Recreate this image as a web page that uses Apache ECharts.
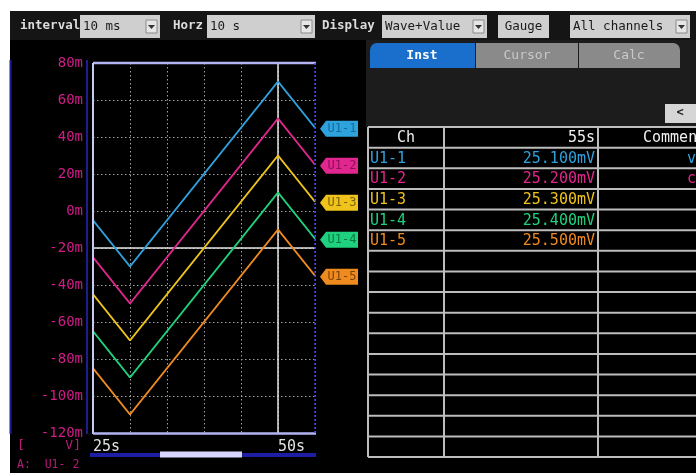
<!DOCTYPE html>
<html>
<head>
<meta charset="utf-8">
<script src="https://cdn.jsdelivr.net/npm/echarts@6/dist/echarts.min.js"></script>
<style>
  html, body { margin: 0; padding: 0; background: #fff; }
  #chart { width: 696px; height: 473px; }
</style>
</head>
<body>
<div id="chart"></div>
<script>
// time axis (s) and the two labelled ticks
const times = [25, 30, 50, 55];
const xTickLabels = { 25: "25s", 50: "50s" };

// trace values (mV) per channel, at the times above
const u1_1 = [-5, -30, 70, 45];
const u1_2 = [-25, -50, 50, 25];
const u1_3 = [-45, -70, 30, 5];
const u1_4 = [-65, -90, 10, -15];
const u1_5 = [-85, -110, -10, -35];

// cursor lines
const cursorTime = 50;
const cursorLevel = -20;

// table on the right
const channels = ["U1-1", "U1-2", "U1-3", "U1-4", "U1-5"];
const instValues = ["25.100mV", "25.200mV", "25.300mV", "25.400mV", "25.500mV"];
const comments = ["v", "c", "", "", ""];
const tableTime = "55s";

const chColors = ["#2ea2dc", "#e2268f", "#efc21c", "#1fd17c", "#ef8a1e"];
const tagText = ["#156a9a", "#8e0f58", "#7a6208", "#0c7a45", "#7a4208"];

const FONT = '"DejaVu Sans Mono", monospace';

const chart = echarts.init(document.getElementById("chart"));

function txt(x, y, s, color, size, align, weight) {
  return {
    type: "text", x: x, y: y, z: 20,
    style: {
      text: s, fill: color,
      font: (weight || "normal") + " " + size + "px " + FONT,
      align: align || "left", textAlign: align || "left",
      verticalAlign: "middle", textVerticalAlign: "middle",
    },
  };
}
function rect(x, y, w, h, fill, extra) {
  return Object.assign({
    type: "rect", z: 1,
    shape: { x: x, y: y, width: w, height: h },
    style: { fill: fill },
  }, extra || {});
}
function line(x1, y1, x2, y2, stroke, w, dash) {
  return {
    type: "line", z: 15,
    shape: { x1: x1, y1: y1, x2: x2, y2: y2 },
    style: { stroke: stroke, lineWidth: w, lineDash: dash || null },
  };
}
function dropdown(x, y, w, label) {
  return [
    rect(x, y, w, 23, "#cfcfcf", { z: 5 }),
    txt(x + 3, y + 12, label, "#1a1a1a", 12.5),
    rect(x + w - 14, y + 5, 11, 13, "#e6e6e6", { z: 6, style: { fill: "#e6e6e6", stroke: "#8a8a8a", lineWidth: 1 } }),
    { type: "polygon", z: 7, shape: { points: [[x + w - 12, y + 10], [x + w - 5, y + 10], [x + w - 8.5, y + 14]] }, style: { fill: "#333" } },
  ];
}

const graphics = [];
// screen background
graphics.push(rect(10, 11, 686, 462, "#000", { z: 0 }));
// toolbar
graphics.push(rect(10, 11, 686, 29, "#151515", { z: 1 }));
graphics.push(txt(20, 26, "interval", "#dcdcdc", 12.5, "left", "bold"));
graphics.push.apply(graphics, dropdown(80, 15, 80, "10 ms"));
graphics.push(txt(173, 26, "Horz", "#dcdcdc", 12.5, "left", "bold"));
graphics.push.apply(graphics, dropdown(207, 15, 108, "10 s"));
graphics.push(txt(322, 26, "Display", "#dcdcdc", 12.5, "left", "bold"));
graphics.push.apply(graphics, dropdown(382, 15, 105, "Wave+Value"));
graphics.push(rect(498, 15, 51, 23, "#cfcfcf", { z: 5 }));
graphics.push(txt(523.5, 27, "Gauge", "#1a1a1a", 12.5, "center"));
graphics.push.apply(graphics, dropdown(570, 15, 120, "All channels"));

// right panel: tabs and header area
graphics.push(rect(366, 40, 330, 87, "#1c1c1c", { z: 1 }));
graphics.push(rect(370, 43, 105, 25, "#1b6fcc", { z: 3, shape: { x: 370, y: 43, width: 105, height: 25, r: [7, 0, 0, 0] } }));
graphics.push(rect(476, 43, 102, 25, "#8a8a8a", { z: 3 }));
graphics.push(rect(579, 43, 101, 25, "#8a8a8a", { z: 3, shape: { x: 579, y: 43, width: 101, height: 25, r: [0, 7, 0, 0] } }));
graphics.push(txt(422, 56, "Inst", "#ffffff", 13, "center", "bold"));
graphics.push(txt(527, 56, "Cursor", "#c9c9c9", 13, "center"));
graphics.push(txt(629, 56, "Calc", "#c9c9c9", 13, "center"));
graphics.push(rect(665, 104, 31, 19, "#d6d6d6", { z: 3 }));
graphics.push(txt(680, 113, "<", "#222", 12, "center", "bold"));

// table
const rowTop = 127, rowH = 20.625, nRows = 16;
for (let k = 0; k <= nRows; k++) {
  graphics.push(line(368, rowTop + k * rowH, 696, rowTop + k * rowH, "#bdbdbd", 2));
}
[368, 444, 598].forEach(function (x) {
  graphics.push(line(x, rowTop, x, rowTop + nRows * rowH, "#bdbdbd", 2));
});
graphics.push(txt(406, rowTop + rowH / 2 + 1, "Ch", "#f0f0f0", 15, "center"));
graphics.push(txt(595, rowTop + rowH / 2 + 1, tableTime, "#f0f0f0", 15, "right"));
graphics.push(txt(643, rowTop + rowH / 2 + 1, "Comment", "#f0f0f0", 15, "left"));
channels.forEach(function (ch, i) {
  const cy = rowTop + (i + 1.5) * rowH + 1;
  graphics.push(txt(370, cy, ch, chColors[i], 15));
  graphics.push(txt(595, cy, instValues[i], chColors[i], 15, "right"));
  if (comments[i]) graphics.push(txt(687, cy, comments[i], chColors[i], 15));
});

// left axis panel borders
graphics.push(line(10.5, 60, 10.5, 434, "#1d1d92", 2));
graphics.push(line(87, 60, 87, 434, "#1d1d92", 2));
graphics.push(txt(17, 446, "[", "#b81a7a", 13));
graphics.push(txt(81, 446, "V]", "#b81a7a", 13, "right"));
graphics.push(txt(17, 465, "A:  U1- 2", "#b81a7a", 11.5));

// plot frame
graphics.push(line(93, 63, 316, 63, "#b4b4f4", 2.5));
graphics.push(line(93, 63, 93, 434, "#c8c8f4", 2));
graphics.push(line(93, 433.5, 316, 433.5, "#b4b4f4", 2.5));
graphics.push(line(315, 63, 315, 433, "#4040d8", 1.5, [2, 2]));
// scrollbar
graphics.push(rect(90, 453, 226, 4, "#1e1ea4", { z: 3 }));
graphics.push(rect(160, 451.5, 82, 6, "#d6d6ff", { z: 4 }));

function toPairs(vals) {
  return times.map(function (t, i) { return [t, vals[i]]; });
}
const traceData = [u1_1, u1_2, u1_3, u1_4, u1_5];

const series = traceData.map(function (vals, i) {
  const last = vals[vals.length - 1];
  const s = {
    name: channels[i],
    type: "line",
    data: toPairs(vals),
    showSymbol: false,
    clip: false,
    lineStyle: { color: chColors[i], width: 2 },
    itemStyle: { color: chColors[i] },
    z: 5,
    markPoint: {
      symbol: "path://M0,8 L6,0 L38,0 L38,16 L6,16 Z",
      symbolSize: [38, 16],
      symbolOffset: [24, 1],
      itemStyle: { color: chColors[i] },
      label: {
        show: true, position: "inside", offset: [3, 0],
        color: tagText[i], fontFamily: FONT, fontSize: 12,
        formatter: channels[i],
      },
      data: [{ coord: [times[times.length - 1], last] }],
    },
  };
  if (i === 0) {
    s.markLine = {
      symbol: "none", silent: true,
      label: { show: false },
      lineStyle: { color: "#e6e6e6", type: "solid", width: 1.5 },
      data: [{ xAxis: cursorTime }, { yAxis: cursorLevel }],
      z: 4,
    };
  }
  return s;
});

const option = {
  backgroundColor: "#ffffff",
  animation: false,
  grid: { left: 93, top: 63, width: 222, height: 370, containLabel: false },
  xAxis: {
    type: "value", min: 25, max: 55, interval: 5,
    axisLine: { show: false },
    axisTick: { show: false },
    axisLabel: {
      show: true, align: "left", margin: 7,
      color: "#e2e2e2", fontFamily: FONT, fontSize: 15,
      formatter: function (v) { return xTickLabels[v] || ""; },
    },
    splitLine: { show: true, lineStyle: { color: "#a0a0a0", type: [1.5, 2.5], width: 1 } },
  },
  yAxis: {
    type: "value", min: -120, max: 80, interval: 20,
    axisLine: { show: false },
    axisTick: { show: false },
    axisLabel: {
      show: true, margin: 10, verticalAlign: "middle", padding: [0, 0, 6, 0],
      color: "#d01c88", fontFamily: FONT, fontSize: 14,
      formatter: function (v) { return v + "m"; },
    },
    splitLine: { show: true, lineStyle: { color: "#a0a0a0", type: [1.5, 2.5], width: 1 } },
  },
  graphic: { elements: graphics },
  series: series,
};
chart.setOption(option);
</script>
</body>
</html>
